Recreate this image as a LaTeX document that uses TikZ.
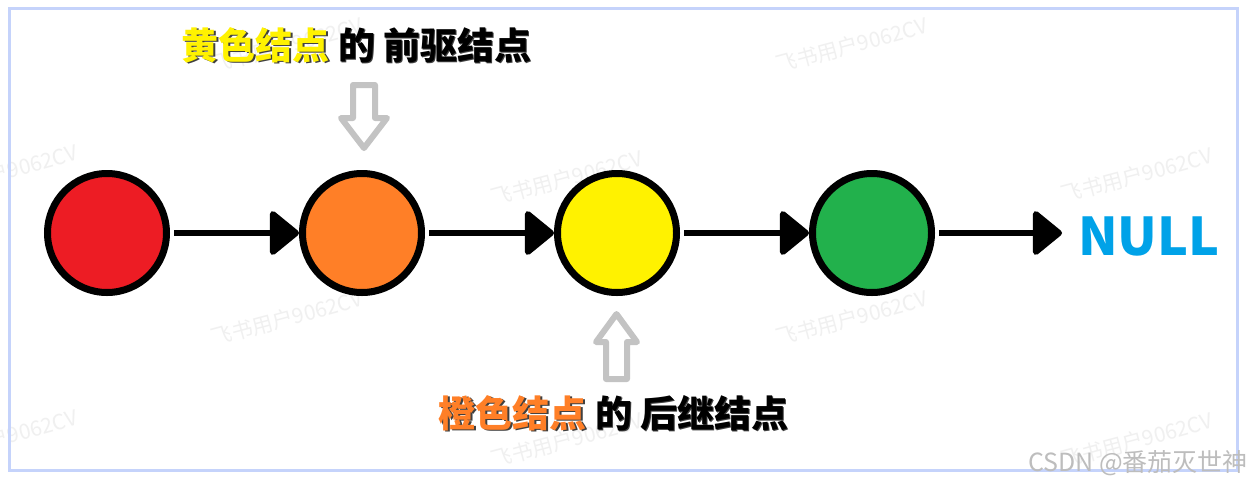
\documentclass[tikz,border=0pt]{standalone}
\usepackage{fontspec}
\newfontfamily\cjk{Noto Sans CJK SC}
\usetikzlibrary{arrows.meta}
\definecolor{nred}{HTML}{ED1C24}
\definecolor{norange}{HTML}{FF7F27}
\definecolor{nyellow}{HTML}{FFF200}
\definecolor{ngreen}{HTML}{22B14C}
\definecolor{nullblue}{HTML}{00A2E8}
\definecolor{frame}{HTML}{C5D3FB}
\definecolor{hollow}{HTML}{C3C3C3}
\definecolor{wmark}{HTML}{F0F0F0}
\definecolor{csdn}{HTML}{BDBDBD}
\tikzset{
  listnode/.style={circle, draw=black, line width=7pt, minimum size=119pt, inner sep=0pt},
  link/.style={line width=6pt, -{Triangle[length=31pt,width=49pt,round]}, shorten <=4pt},
  hollowarrow/.style={draw=hollow, line width=6pt, line join=round, fill=white},
  lbl/.style={font=\cjk\bfseries\fontsize{37}{40}\selectfont, inner sep=0pt},
  wm/.style={font=\cjk\fontsize{21}{24}\selectfont, text=wmark, rotate=15, inner sep=0pt},
}
\begin{document}
\begin{tikzpicture}[x=1pt,y=-1pt]
\useasboundingbox (0,0) rectangle (1253,485);
\fill[white] (0,0) rectangle (1253,485);
% watermarks
\foreach \px/\py in {287/45, 852/45, 2/172, 567/178, 1137/175, 287/318, 852/318, 2/437, 567/440, 1137/440}
  \node[wm] at (\px,\py) {飞书用户9062CV};
% frame
\draw[frame, line width=3pt] (9.5,8.5) rectangle (1237.5,470.5);
% list nodes
\node[listnode, fill=nred]    (n1) at (107,233) {};
\node[listnode, fill=norange] (n2) at (362,233) {};
\node[listnode, fill=nyellow] (n3) at (617,233) {};
\node[listnode, fill=ngreen]  (n4) at (872,233) {};
\node[font=\cjk\bfseries\fontsize{52}{56}\selectfont, text=nullblue, anchor=west, inner sep=0pt] (null) at (1078,236) {NULL};
\draw[link] (n1) -- (n2);
\draw[link] (n2) -- (n3);
\draw[link] (n3) -- (n4);
\draw[link, shorten >=16pt] (n4) -- (n4 -| null.west);
% hollow pointer arrows
\draw[hollowarrow] (353,85) -- (375,85) -- (375,118) -- (387,118) -- (364,148) -- (341,118) -- (353,118) -- cycle;
\draw[hollowarrow] (616.5,314) -- (637,342) -- (627,342) -- (627,379) -- (606,379) -- (606,342) -- (596,342) -- cycle;
% labels
\node[lbl, text=black!75] at (358,46.5) {黄色结点 的 前驱结点};
\node[lbl] (top) at (356.5,45) {\textcolor{nyellow}{黄色结点} 的 前驱结点};
\node[lbl, text=black!75] at (615,414.5) {橙色结点 的 后继结点};
\node[lbl] (bottom) at (613.5,413) {\textcolor{norange}{橙色结点} 的 后继结点};
% credit
\node[font=\cjk\fontsize{25}{28}\selectfont, text=csdn, anchor=east, inner sep=0pt] (credit) at (1248,463) {CSDN @番茄灭世神};
\end{tikzpicture}
\end{document}
